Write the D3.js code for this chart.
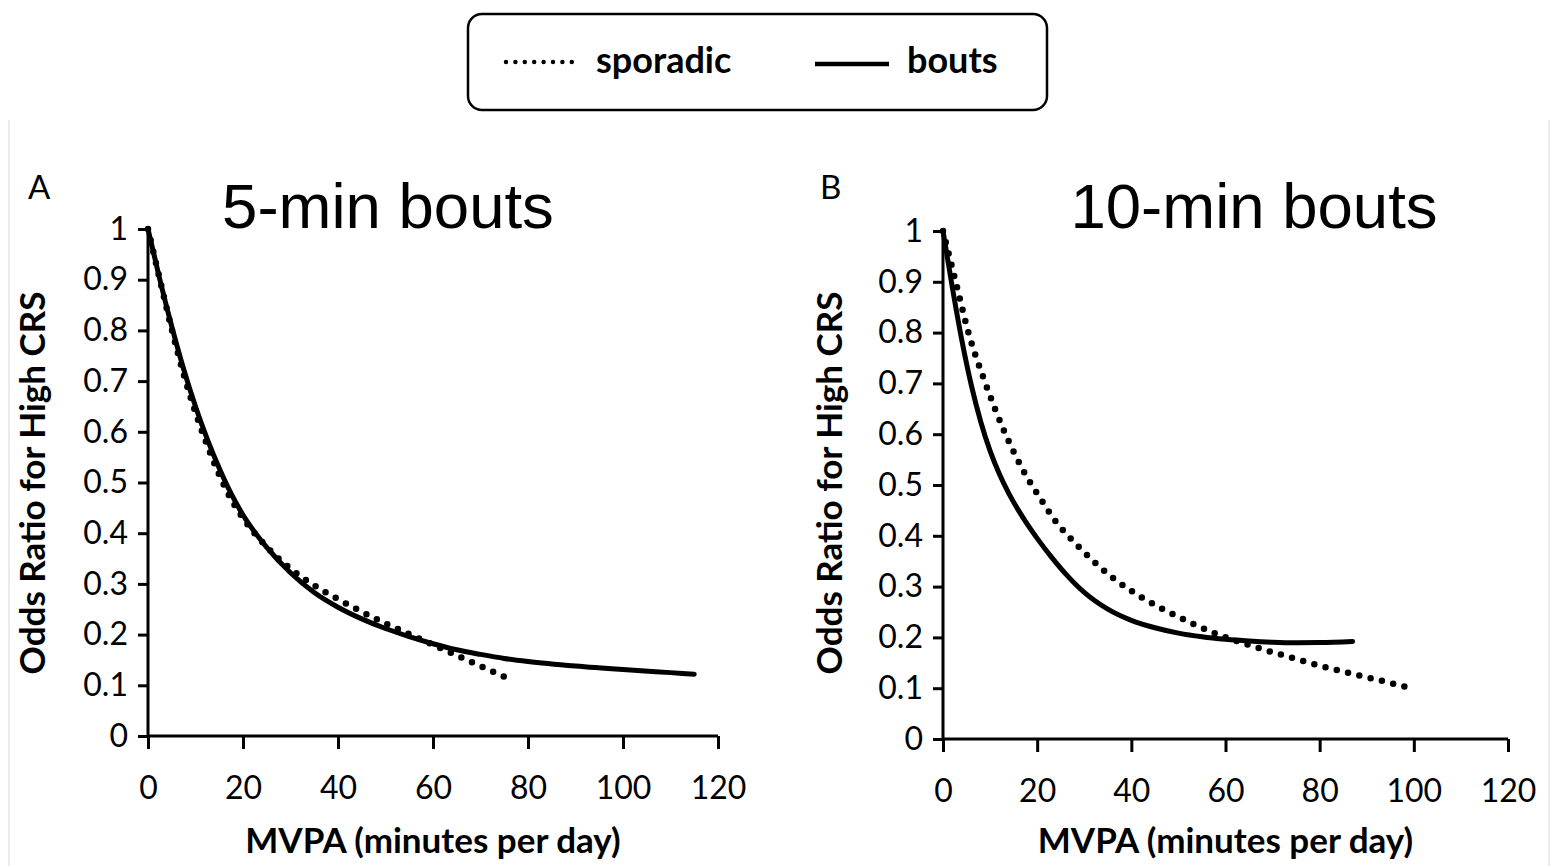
<!DOCTYPE html>
<html>
<head>
<meta charset="utf-8">
<script src="https://cdn.jsdelivr.net/npm/d3@7"></script>
<style>
    body { margin: 0; background: #fff; }
    svg { display: block; }
    .tick text { font-family: Lato, sans-serif; font-size: 32px; fill: #000; }
    .axis-title { font-family: Lato, sans-serif; font-weight: bold; font-size: 35px; }
    .panel-title { font-family: "Liberation Sans", Arial, sans-serif; font-size: 63.5px; }
    .panel-letter { font-family: Lato, sans-serif; font-size: 33px; }
    .legend-text { font-family: Lato, sans-serif; font-weight: bold; font-size: 36px; }
</style>
</head>
<body>
<div id="chart"></div>
<script>
// Odds ratio curves
const xTicks = [0, 20, 40, 60, 80, 100, 120];
const yTicks = [0, 0.1, 0.2, 0.3, 0.4, 0.5, 0.6, 0.7, 0.8, 0.9, 1];

// Panel A - 5-min bouts
const aBoutsX = [0, 2.5, 5, 7.5, 10, 12.5, 15, 17.5, 20, 25, 30, 35, 40, 45, 50, 55, 60, 65, 70, 75, 80, 90, 100, 110, 115];
const aBoutsY = [1, 0.9, 0.808, 0.724, 0.65, 0.585, 0.528, 0.478, 0.436, 0.372, 0.322, 0.283, 0.254, 0.231, 0.212, 0.196, 0.182, 0.17, 0.161, 0.153, 0.147, 0.138, 0.131, 0.125, 0.122];
const aSporadicX = [0, 2.5, 5, 7.5, 10, 12.5, 15, 17.5, 20, 25, 30, 35, 40, 45, 50, 55, 60, 65, 70, 75];
const aSporadicY = [1, 0.9, 0.802, 0.714, 0.638, 0.573, 0.515, 0.467, 0.43, 0.373, 0.33, 0.297, 0.27, 0.245, 0.222, 0.201, 0.18, 0.159, 0.138, 0.117];

// Panel B - 10-min bouts
const bBoutsX = [0, 2, 4, 6, 8, 10, 12, 14, 16, 18, 20, 23, 26, 30, 35, 40, 45, 50, 55, 60, 65, 70, 75, 80, 87];
const bBoutsY = [1, 0.888, 0.785, 0.697, 0.625, 0.567, 0.521, 0.483, 0.4505, 0.4215, 0.395, 0.3585, 0.3255, 0.2885, 0.2555, 0.2335, 0.219, 0.2085, 0.2012, 0.1962, 0.1928, 0.1905, 0.1895, 0.1898, 0.192];
const bSporadicX = [0, 2.7, 5.4, 8.9, 13, 17.8, 20.8, 23.8, 27.4, 29.5, 35.7, 42.5, 49.9, 57.5, 65.3, 73.3, 81.3, 86.7, 94.7, 100.2];
const bSporadicY = [1, 0.9, 0.8, 0.703, 0.606, 0.516, 0.472, 0.43, 0.392, 0.372, 0.32, 0.277, 0.241, 0.209, 0.184, 0.162, 0.141, 0.129, 0.111, 0.098];

const width = 1552, height = 866;

const svg = d3.select('#chart')
    .append('svg')
    .attr('width', width)
    .attr('height', height);

// faint frame edges seen in the scan
svg.append('line').attr('x1', 9).attr('x2', 9).attr('y1', 120).attr('y2', height)
    .attr('stroke', '#e6e6e6').attr('stroke-width', 1.5);
svg.append('line').attr('x1', 1549).attr('x2', 1549).attr('y1', 120).attr('y2', height)
    .attr('stroke', '#e6e6e6').attr('stroke-width', 1.5);

function zip(xs, ys) {
    return xs.map((x, i) => ({ x: x, y: ys[i] }));
}

function drawPanel(p) {
    const x = d3.scaleLinear().domain([0, 120]).range([p.left, p.right]);
    const y = d3.scaleLinear().domain([0, 1]).range([p.bottom, p.top]);
    const g = svg.append('g');

    const xAxis = g.append('g')
        .attr('transform', `translate(0,${p.bottom})`)
        .call(d3.axisBottom(x).tickValues(xTicks).tickSize(13).tickPadding(27).tickFormat(d3.format('d')));
    const yAxis = g.append('g')
        .attr('transform', `translate(${p.left},0)`)
        .call(d3.axisLeft(y).tickValues(yTicks).tickSize(10).tickPadding(10).tickFormat(d => d === 0 || d === 1 ? d : d.toFixed(1)));

    [xAxis, yAxis].forEach(ax => {
        ax.select('.domain').attr('stroke', '#000').attr('stroke-width', 3);
        ax.selectAll('.tick line').attr('stroke', '#000').attr('stroke-width', 3);
    });
    xAxis.select('.domain').attr('d', `M${p.left},0H${p.right}`);
    yAxis.select('.domain').attr('d', `M0,${p.bottom}V${p.top}`);

    const line = d3.line()
        .x(d => x(d.x))
        .y(d => y(d.y))
        .curve(d3.curveMonotoneX);

    g.append('path')
        .datum(zip(p.sporadicX, p.sporadicY))
        .attr('d', line)
        .attr('fill', 'none')
        .attr('stroke', '#000')
        .attr('stroke-width', 6.5)
        .attr('stroke-linecap', 'round')
        .attr('stroke-dasharray', '0 11.6');

    g.append('path')
        .datum(zip(p.boutsX, p.boutsY))
        .attr('d', line)
        .attr('fill', 'none')
        .attr('stroke', '#000')
        .attr('stroke-width', 5)
        .attr('stroke-linecap', 'round');

    g.append('text')
        .attr('class', 'axis-title')
        .attr('x', (p.left + p.right) / 2)
        .attr('y', 853)
        .attr('text-anchor', 'middle')
        .text('MVPA (minutes per day)');

    g.append('text')
        .attr('class', 'axis-title')
        .attr('transform', `translate(${p.yTitleX},483) rotate(-90)`)
        .attr('text-anchor', 'middle')
        .text('Odds Ratio for High CRS');

    g.append('text')
        .attr('class', 'panel-title')
        .attr('x', p.titleX)
        .attr('y', 228)
        .attr('text-anchor', 'middle')
        .text(p.title);

    g.append('text')
        .attr('class', 'panel-letter')
        .attr('x', p.letterX)
        .attr('y', 199)
        .text(p.letter);
}

drawPanel({
    left: 148, right: 718, top: 229, bottom: 736,
    boutsX: aBoutsX, boutsY: aBoutsY, sporadicX: aSporadicX, sporadicY: aSporadicY,
    title: '5-min bouts', titleX: 388, letter: 'A', letterX: 28, yTitleX: 45
});

drawPanel({
    left: 943, right: 1508, top: 231, bottom: 739,
    boutsX: bBoutsX, boutsY: bBoutsY, sporadicX: bSporadicX, sporadicY: bSporadicY,
    title: '10-min bouts', titleX: 1254, letter: 'B', letterX: 820, yTitleX: 842
});

// Legend
const legend = svg.append('g');
legend.append('rect')
    .attr('x', 468).attr('y', 14)
    .attr('width', 579).attr('height', 96)
    .attr('rx', 14)
    .attr('fill', '#fff')
    .attr('stroke', '#000')
    .attr('stroke-width', 2.5);

legend.append('line')
    .attr('x1', 506).attr('x2', 572).attr('y1', 62).attr('y2', 62)
    .attr('stroke', '#000').attr('stroke-width', 4.5)
    .attr('stroke-linecap', 'round')
    .attr('stroke-dasharray', '0 9.4');
legend.append('text')
    .attr('class', 'legend-text')
    .attr('x', 596).attr('y', 73)
    .text('sporadic');

legend.append('line')
    .attr('x1', 815).attr('x2', 889).attr('y1', 64).attr('y2', 64)
    .attr('stroke', '#000').attr('stroke-width', 4.5);
legend.append('text')
    .attr('class', 'legend-text')
    .attr('x', 907).attr('y', 73)
    .text('bouts');
</script>
</body>
</html>
